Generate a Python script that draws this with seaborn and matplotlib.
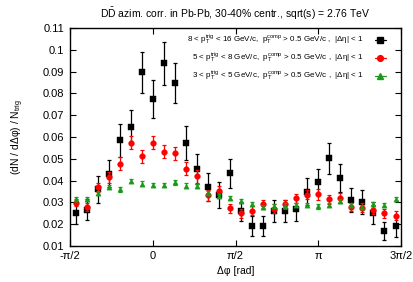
import numpy as np
import pandas as pd
import matplotlib
matplotlib.use("Agg")
import matplotlib.pyplot as plt
from matplotlib.lines import Line2D
import seaborn as sns

# 30 bins in delta phi, from -pi/2 to 3pi/2
n_bins = 30
dphi = -np.pi / 2 + (np.arange(n_bins) + 0.5) * np.pi / 15

# 8 < pT trig < 16 GeV/c
high_y = [0.0250, 0.0267, 0.0359, 0.0432, 0.0585, 0.0644, 0.0896, 0.0774, 0.0937, 0.0847,
          0.0571, 0.0452, 0.0370, 0.0333, 0.0433, 0.0258, 0.0191, 0.0191, 0.0259, 0.0259,
          0.0270, 0.0349, 0.0392, 0.0502, 0.0411, 0.0310, 0.0301, 0.0250, 0.0169, 0.0190]
high_err = [0.0050, 0.0050, 0.0060, 0.0060, 0.0075, 0.0078, 0.0095, 0.0088, 0.0097, 0.0093,
            0.0077, 0.0068, 0.0064, 0.0058, 0.0066, 0.0045, 0.0045, 0.0045, 0.0050, 0.0050,
            0.0055, 0.0062, 0.0060, 0.0070, 0.0065, 0.0055, 0.0055, 0.0050, 0.0040, 0.0048]

# 5 < pT trig < 8 GeV/c
mid_y = [0.0299, 0.0278, 0.0369, 0.0414, 0.0478, 0.0573, 0.0511, 0.0573, 0.0531, 0.0524,
         0.0453, 0.0420, 0.0333, 0.0354, 0.0272, 0.0249, 0.0261, 0.0291, 0.0270, 0.0291,
         0.0319, 0.0335, 0.0336, 0.0313, 0.0319, 0.0279, 0.0275, 0.0267, 0.0249, 0.0238]
mid_err = [0.0018, 0.0020, 0.0020, 0.0025, 0.0028, 0.0030, 0.0030, 0.0030, 0.0030, 0.0030,
           0.0030, 0.0030, 0.0025, 0.0022, 0.0020, 0.0020, 0.0020, 0.0020, 0.0020, 0.0020,
           0.0020, 0.0022, 0.0025, 0.0022, 0.0022, 0.0020, 0.0020, 0.0020, 0.0020, 0.0020]

# 3 < pT trig < 5 GeV/c
low_y = [0.0316, 0.0316, 0.0344, 0.0369, 0.0359, 0.0397, 0.0386, 0.0379, 0.0379, 0.0391,
         0.0377, 0.0376, 0.0344, 0.0328, 0.0321, 0.0307, 0.0291, 0.0279, 0.0282, 0.0285,
         0.0288, 0.0288, 0.0281, 0.0288, 0.0307, 0.0287, 0.0279, 0.0293, 0.0288, 0.0314]
low_err = [0.0010] * n_bins

labels = [
    r"8 < p$_\mathrm{T}^\mathrm{trig}$ < 16 GeV/c,  p$_\mathrm{T}^\mathrm{comp}$ > 0.5 GeV/c ,  |Δη| < 1",
    r"5 < p$_\mathrm{T}^\mathrm{trig}$ < 8 GeV/c,  p$_\mathrm{T}^\mathrm{comp}$ > 0.5 GeV/c ,  |Δη| < 1",
    r"3 < p$_\mathrm{T}^\mathrm{trig}$ < 5 GeV/c,  p$_\mathrm{T}^\mathrm{comp}$ > 0.5 GeV/c ,  |Δη| < 1",
]

series = [
    (high_y, high_err, "black", "s", 22),
    (mid_y, mid_err, "#ff0000", "o", 17),
    (low_y, low_err, "#1a9a1a", "^", 14),
]

sns.set_style("ticks")
plt.rcParams["font.family"] = ["Liberation Sans", "DejaVu Sans"]
plt.rcParams["mathtext.fontset"] = "custom"
plt.rcParams["mathtext.rm"] = "Liberation Sans"
plt.rcParams["mathtext.default"] = "regular"
plt.rcParams["text.color"] = "black"
plt.rcParams["axes.labelcolor"] = "black"
plt.rcParams["xtick.color"] = "black"
plt.rcParams["ytick.color"] = "black"
plt.rcParams["axes.edgecolor"] = "black"

fig = plt.figure(figsize=(4.13, 2.82), dpi=100)
ax = fig.add_axes([0.1695, 0.128, 0.8015, 0.773])

handles = []
for i, (y, err, color, marker, size) in enumerate(series):
    df = pd.DataFrame({"dphi": dphi, "y": y, "err": err})
    ax.errorbar(df["dphi"], df["y"], yerr=df["err"], fmt="none", ecolor=color,
                elinewidth=0.9, capsize=1.5, capthick=0.9, zorder=2 + 2 * i)
    sns.scatterplot(data=df, x="dphi", y="y", ax=ax, color=color, marker=marker,
                    s=size, edgecolor=color, linewidth=0.3, zorder=3 + 2 * i)
    handles.append(Line2D([], [], color=color, marker=marker, markersize=np.sqrt(size),
                          lw=0.9, linestyle="-"))

ax.set_xlim(-np.pi / 2, 3 * np.pi / 2)
ax.set_ylim(0.01, 0.11)
ax.set_xticks([-np.pi / 2, 0, np.pi / 2, np.pi, 3 * np.pi / 2])
ax.set_xticklabels(["-π/2", "0", "π/2", "π", "3π/2"])
yt = [0.01, 0.02, 0.03, 0.04, 0.05, 0.06, 0.07, 0.08, 0.09, 0.1, 0.11]
ax.set_yticks(yt)
ax.set_yticklabels(["%g" % v for v in yt])
ax.tick_params(direction="in", top=True, right=True, length=4, width=0.8,
               labelsize=8, pad=4)
for sp in ax.spines.values():
    sp.set_linewidth(1.0)

ax.set_xlabel("Δφ [rad]", fontsize=7.5, labelpad=3)
ax.set_ylabel(r"(dN / dΔφ) / N$_\mathrm{trig}$", fontsize=7.5, labelpad=12)
ax.set_title(r"D$\bar{\mathrm{D}}$ azim. corr. in Pb-Pb, 30-40% centr., sqrt(s) = 2.76 TeV",
             fontsize=7.5, pad=7)

ax.legend(handles, labels, loc="upper right", bbox_to_anchor=(0.958, 0.985),
          frameon=False, fontsize=5.8, markerfirst=False, handlelength=1.3,
          labelspacing=0.45, borderaxespad=0, borderpad=0.2, handletextpad=1.4)

fig.savefig("out.png", dpi=100)
